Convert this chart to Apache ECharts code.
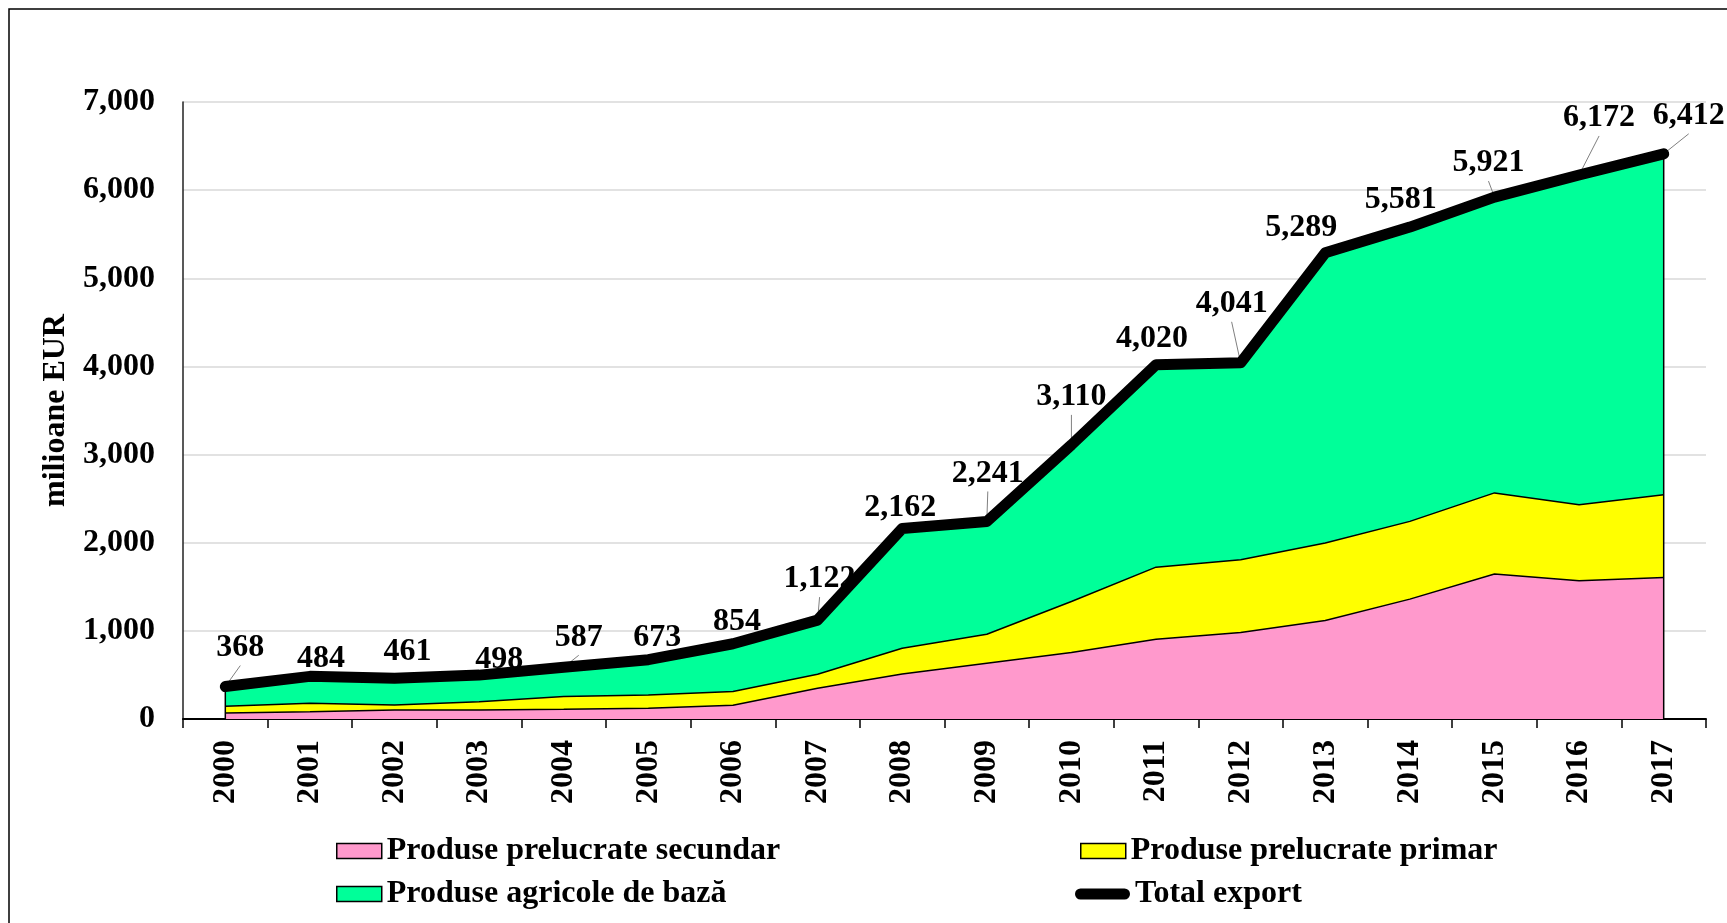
<!DOCTYPE html>
<html>
<head>
<meta charset="utf-8">
<script src="https://cdn.jsdelivr.net/npm/echarts@6/dist/echarts.min.js"></script>
<style>
html,body{margin:0;padding:0;background:#fff;}
#chart{width:1727px;height:923px;}
</style>
</head>
<body>
<div id="chart"></div>
<script>
// ---- data (millions EUR) ----
const years = ['2000','2001','2002','2003','2004','2005','2006','2007','2008','2009','2010','2011','2012','2013','2014','2015','2016','2017'];
const secundar = [68, 83, 102, 102, 110, 121, 155, 349, 511, 633, 754, 905, 981, 1117, 1360, 1646, 1568, 1606];
const primar   = [77, 95, 57, 95, 144, 152, 156, 159, 292, 329, 579, 818, 826, 879, 882, 919, 864, 939];
const agricole = [223, 306, 302, 301, 333, 400, 543, 614, 1359, 1279, 1777, 2297, 2234, 3293, 3339, 3356, 3740, 3867];
const total    = [368, 484, 461, 498, 587, 673, 854, 1122, 2162, 2241, 3110, 4020, 4041, 5289, 5581, 5921, 6172, 6412];
const yTicks = [0, 1000, 2000, 3000, 4000, 5000, 6000, 7000];
const seriesNames = ['Produse prelucrate secundar', 'Produse prelucrate primar', 'Produse agricole de bază', 'Total export'];

// label placement (pixel offsets of each total label from its point)
const labelOffsets = [[15,-42],[11,-21],[13,-30],[20,-18],[15,-33],[9,-25],[4,-25],[2,-44],[-2,-24],[1,-51],[0,-51],[-4,-29],[-9,-62],[-24,-28],[-9,-30],[-6,-37],[20,-60],[25,-41]];

const FONT = '"Liberation Serif", "Times New Roman", serif';
const fmt = v => Number(v).toLocaleString('en-US');

const chart = echarts.init(document.getElementById('chart'), null, {renderer: 'canvas'});

const legendCommon = {
  orient: 'horizontal', padding: 0, itemGap: 0, itemWidth: 45, itemHeight: 15,
  selectedMode: false, icon: 'rect',
  itemStyle: {borderColor: '#000', borderWidth: 1.5},
  textStyle: {fontFamily: FONT, fontWeight: 'bold', fontSize: 32, color: '#000', lineHeight: 32, padding: [0,0,0,0]}
};

const areaSeries = (name, data, color) => ({
  name: name, type: 'line', stack: 'exp', data: data,
  showSymbol: false, symbol: 'none', z: 2,
  itemStyle: {color: color},
  lineStyle: {color: '#000', width: 1.5},
  areaStyle: {color: color, opacity: 1},
  emphasis: {disabled: true}, silent: true
});

const option = {
  backgroundColor: '#fff',
  animation: false,
  graphic: [{
    type: 'rect', shape: {x: 9, y: 9, width: 1800, height: 1000},
    style: {fill: 'none', stroke: '#000', lineWidth: 1.5}, z: 0, silent: true
  }],
  grid: {left: 183, right: 21, top: 102, bottom: 204, containLabel: false},
  legend: [
    Object.assign({}, legendCommon, {data: [seriesNames[0]], left: 336, top: 835}),
    Object.assign({}, legendCommon, {data: [seriesNames[1]], left: 1080, top: 835}),
    Object.assign({}, legendCommon, {data: [seriesNames[2]], left: 336, top: 878}),
    Object.assign({}, legendCommon, {
      data: [{name: seriesNames[3], icon: 'path://M5,0 L45,0 A5,5 0 0 1 45,10 L5,10 A5,5 0 0 1 5,0 Z'}],
      left: 1075, top: 878, itemWidth: 55, itemHeight: 11,
      itemStyle: {color: '#000', borderWidth: 0}
    })
  ],
  xAxis: {
    type: 'category', data: years, boundaryGap: true,
    axisLine: {lineStyle: {color: '#000', width: 2}},
    axisTick: {show: true, length: 9, inside: false, alignWithLabel: false, lineStyle: {color: '#000', width: 1.5}},
    axisLabel: {rotate: 90, margin: 21, fontFamily: FONT, fontWeight: 'bold', fontSize: 32, color: '#000', interval: 0},
    splitLine: {show: false}
  },
  yAxis: {
    type: 'value', min: yTicks[0], max: yTicks[yTicks.length - 1], interval: yTicks[1] - yTicks[0],
    name: 'milioane EUR', nameLocation: 'middle', nameGap: 106, nameRotate: 90,
    nameTextStyle: {fontFamily: FONT, fontWeight: 'bold', fontSize: 32, color: '#000'},
    axisLine: {show: true, lineStyle: {color: '#222', width: 1.5}},
    axisTick: {show: false},
    axisLabel: {margin: 28, fontFamily: FONT, fontWeight: 'bold', fontSize: 32, color: '#000', formatter: v => fmt(v)},
    splitLine: {show: true, lineStyle: {color: '#d9d9d9', width: 1.5}}
  },
  series: [
    areaSeries(seriesNames[0], secundar, '#FF99CC'),
    areaSeries(seriesNames[1], primar, '#FFFF00'),
    areaSeries(seriesNames[2], agricole, '#00FF99'),
    {
      // vertical outline edges of the stacked area at first and last category
      type: 'custom', name: 'edges', z: 3, silent: true,
      data: total.map((v, i) => [i, v]),
      renderItem: function (params, api) {
        const i = api.value(0);
        if (i !== 0 && i !== years.length - 1) return null;
        const top = secundar[i] + primar[i] + agricole[i];
        const p0 = api.coord([i, 0]);
        const p1 = api.coord([i, top]);
        return {type: 'line', shape: {x1: p0[0], y1: p0[1], x2: p1[0], y2: p1[1]},
                style: {stroke: '#000', lineWidth: 1.5}};
      }
    },
    {
      // data labels with leader lines for the total
      type: 'custom', name: 'totalLabels', z: 4, silent: true,
      data: total.map((v, i) => [i, v]),
      renderItem: function (params, api) {
        const i = api.value(0);
        const p = api.coord([i, api.value(1)]);
        const off = labelOffsets[i];
        const lx = p[0] + off[0], ly = p[1] + off[1];
        const children = [];
        if (off[1] < -31) {
          children.push({type: 'line', shape: {x1: lx, y1: ly + 21, x2: p[0], y2: p[1]},
                         style: {stroke: '#808080', lineWidth: 1}});
        }
        children.push({type: 'text', x: lx, y: ly + 3,
          style: {text: fmt(api.value(1)), fill: '#000', align: 'center', verticalAlign: 'middle',
                  font: 'bold 32px ' + FONT}});
        return {type: 'group', children: children};
      }
    },
    {
      name: seriesNames[3], type: 'line', data: total, z: 5,
      showSymbol: false, symbol: 'none', silent: true,
      itemStyle: {color: '#000'},
      lineStyle: {color: '#000', width: 11, cap: 'round', join: 'round'},
      emphasis: {disabled: true}
    }
  ]
};
chart.setOption(option);
</script>
</body>
</html>
